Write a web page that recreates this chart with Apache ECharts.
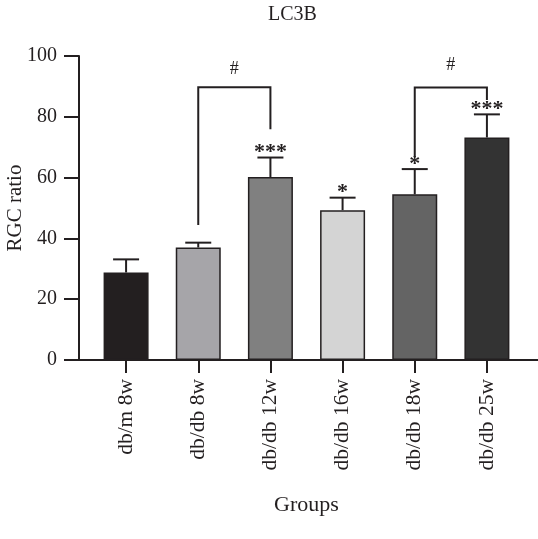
<!DOCTYPE html>
<html>
<head>
<meta charset="utf-8">
<script src="https://cdn.jsdelivr.net/npm/echarts@6/dist/echarts.min.js"></script>
<style>html,body{margin:0;padding:0;background:#fff}#c{width:538px;height:539px}</style>
</head>
<body>
<div id="c"></div>
<script>
const categories = ['db/m 8w', 'db/db 8w', 'db/db 12w', 'db/db 16w', 'db/db 18w', 'db/db 25w'];
const means = [28.8, 37.0, 60.2, 49.3, 54.5, 73.2];
const errors = [4.3, 1.6, 6.4, 4.1, 8.3, 7.6];
const stars = ['', '', '***', '*', '*', '***'];
const barColors = ['#231f20', '#a6a5a9', '#808080', '#d4d4d4', '#646464', '#333333'];
const yTicks = [0, 20, 40, 60, 80, 100];
// bracket: [fromIndex, toIndex, topValue, leftLegEnd, rightLegEnd]
const brackets = [[1, 2, 89.7, 44.4, 75.9], [4, 5, 89.6, 66.8, 85.5]];
const bracketLabel = '#';
const hashValue = [95.5, 97];

const FONT = '"Liberation Serif", "DejaVu Serif", serif';
const INK = '#231f20';

const chart = echarts.init(document.getElementById('c'), null, {renderer: 'canvas'});
chart.setOption({
  animation: false,
  backgroundColor: '#ffffff',
  title: {
    text: 'LC3B', left: 263, top: 0,
    textStyle: {fontFamily: FONT, fontSize: 20, fontWeight: 'normal', color: INK}
  },
  grid: [
    {left: 79, right: 0, top: 56, bottom: 179, outerBoundsMode: 'none', containLabel: false},
    {left: 90, width: 433, top: 56, bottom: 179, outerBoundsMode: 'none', containLabel: false}
  ],
  xAxis: [
    {type: 'value', gridIndex: 0, min: 0, max: 1, axisLine: {lineStyle: {color: INK, width: 2}},
     axisTick: {show: false}, axisLabel: {show: false}, splitLine: {show: false}},
    {type: 'category', gridIndex: 1, data: categories, boundaryGap: true,
     axisLine: {show: false},
     axisTick: {show: true, alignWithLabel: true, length: 13, lineStyle: {color: INK, width: 2}},
     axisLabel: {rotate: 90, margin: 19, fontFamily: FONT, fontSize: 21.5, color: INK},
     name: 'Groups', nameLocation: 'middle', nameGap: 134, nameMoveOverlap: false,
     nameTextStyle: {fontFamily: FONT, fontSize: 22, color: INK}}
  ],
  yAxis: [
    {type: 'value', gridIndex: 0, min: yTicks[0], max: yTicks[yTicks.length - 1], interval: 20,
     axisLine: {show: true, lineStyle: {color: INK, width: 2}},
     axisTick: {show: true, length: 15, lineStyle: {color: INK, width: 2}},
     axisLabel: {margin: 22, fontFamily: FONT, fontSize: 20, color: INK},
     splitLine: {show: false},
     name: 'RGC ratio', nameLocation: 'middle', nameGap: 53, nameMoveOverlap: false,
     nameTextStyle: {fontFamily: FONT, fontSize: 21, color: INK}},
    {type: 'value', gridIndex: 1, min: 0, max: 100, show: false, splitLine: {show: false}}
  ],
  series: [
    {
      type: 'bar', xAxisIndex: 1, yAxisIndex: 1, barWidth: 45,
      data: means.map((v, i) => ({value: v, itemStyle: {color: barColors[i]}})),
      itemStyle: {borderColor: INK, borderWidth: 1.5},
      z: 2
    },
    {
      type: 'custom', xAxisIndex: 1, yAxisIndex: 1, z: 3,
      data: means.map((v, i) => [i, v, errors[i]]),
      renderItem: function (params, api) {
        const i = api.value(0), m = api.value(1), e = api.value(2);
        const p0 = api.coord([i, m]);
        const p1 = api.coord([i, m + e]);
        const children = [
          {type: 'line', shape: {x1: p0[0], y1: p0[1], x2: p1[0], y2: p1[1]}, style: {stroke: INK, lineWidth: 2}},
          {type: 'line', shape: {x1: p1[0] - 13, y1: p1[1], x2: p1[0] + 13, y2: p1[1]}, style: {stroke: INK, lineWidth: 2}}
        ];
        const s = stars[params.dataIndex];
        if (s) {
          children.push({type: 'text', x: p1[0], y: p1[1] + 6,
            style: {text: s, fontFamily: FONT, fontSize: 22, fontWeight: 'bold', fill: INK, align: 'center', verticalAlign: 'bottom'}});
        }
        return {type: 'group', children: children};
      }
    },
    {
      type: 'custom', xAxisIndex: 1, yAxisIndex: 1, z: 4,
      data: brackets.map((b, k) => b.concat([hashValue[k]])),
      renderItem: function (params, api) {
        const a = api.value(0), b = api.value(1), top = api.value(2), le = api.value(3), re = api.value(4), hv = api.value(5);
        const pl = api.coord([a, le]), plt = api.coord([a, top]);
        const prt = api.coord([b, top]), pr = api.coord([b, re]);
        const ph = api.coord([a, hv]);
        return {type: 'group', children: [
          {type: 'polyline', shape: {points: [pl, plt, prt, pr]}, style: {stroke: INK, lineWidth: 2, fill: null}},
          {type: 'text', x: (plt[0] + prt[0]) / 2, y: ph[1],
           style: {text: bracketLabel, fontFamily: FONT, fontSize: 18, fill: INK, align: 'center', verticalAlign: 'middle'}}
        ]};
      }
    }
  ]
});
</script>
</body>
</html>
